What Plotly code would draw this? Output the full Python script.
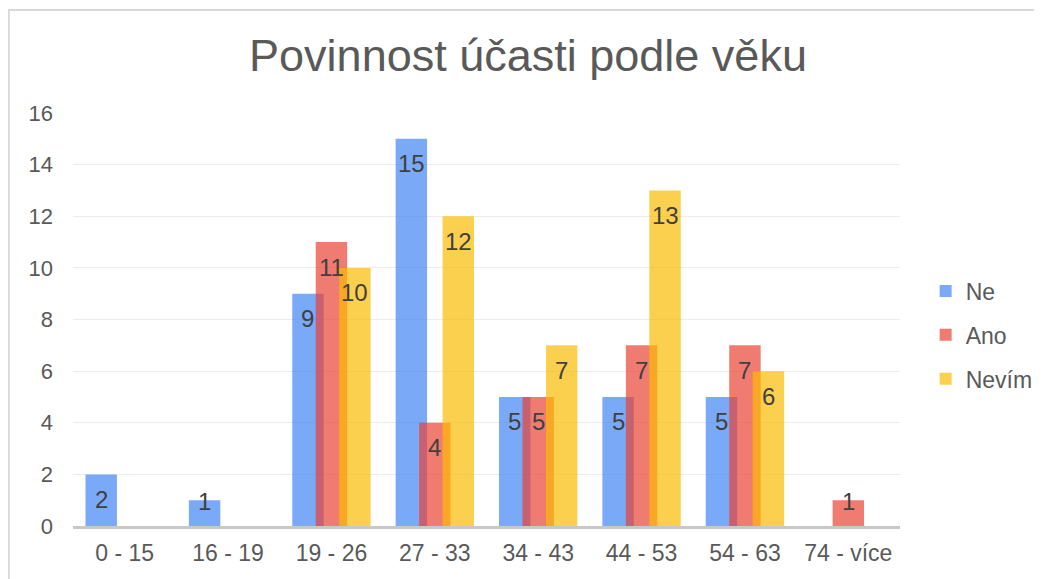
import plotly.graph_objects as go

categories = ["0 - 15", "16 - 19", "19 - 26", "27 - 33", "34 - 43", "44 - 53", "54 - 63", "74 - více"]
series_names = ["Ne", "Ano", "Nevím"]
ne = [2, 1, 9, 15, 5, 5, 5, 0]
ano = [0, 0, 11, 4, 5, 7, 7, 1]
nevim = [0, 0, 10, 12, 7, 13, 6, 0]
y_ticks = [0, 2, 4, 6, 8, 10, 12, 14, 16]

series_values = [ne, ano, nevim]
colors = ["rgba(66,133,244,0.7)", "rgba(234,67,53,0.7)", "rgba(251,188,4,0.7)"]

# page body has an 8px default margin, so the figure is drawn at (8, 8)
OFF = 8
W, H = 1042 - OFF, 579 - OFF
ML, MT = 73 - OFF, 113 - OFF
MR = W - (900 - OFF)
MB = H - (526 - OFF)
plot_w = W - ML - MR
plot_h = H - MT - MB
y_max = 16
px_per_unit = plot_h / y_max

BAR_W = 0.304
STEP = 0.227
FONT = "Liberation Sans, Arial, sans-serif"

fig = go.Figure()
for i, (name, vals) in enumerate(zip(series_names, series_values)):
    fig.add_trace(go.Bar(
        x=categories, y=vals, name=name,
        width=BAR_W, offset=-BAR_W / 2 + (i - 1) * STEP,
        marker=dict(color=colors[i], line=dict(width=0)),
        legendgroup=name,
        hoverinfo="x+y+name",
    ))

# data labels (inside end, drawn above all bars like the original)
annotations = []
for i, vals in enumerate(series_values):
    for j, v in enumerate(vals):
        if v <= 0:
            continue
        if v * px_per_unit >= 50:
            y, ys = v, -25
        else:
            y, ys = 0, 25
        annotations.append(dict(
            x=j + (i - 1) * STEP, y=y, xref="x", yref="y",
            text=str(v), showarrow=False, yshift=ys,
            xanchor="center", yanchor="middle",
            font=dict(size=24, color="#404040", family=FONT),
        ))

fig.update_layout(
    width=W, height=H,
    margin=dict(l=ML, r=MR, t=MT, b=MB, autoexpand=False),
    paper_bgcolor="white", plot_bgcolor="white",
    barmode="overlay",
    font=dict(family=FONT, color="#595959"),
    title=dict(
        text="Povinnost účasti podle věku",
        x=(528 - OFF) / W, xref="container", xanchor="center",
        y=1 - (55 - OFF) / H, yref="container", yanchor="middle",
        font=dict(size=45, color="#595959", family=FONT),
    ),
    xaxis=dict(
        type="category", categoryorder="array", categoryarray=categories,
        range=[-0.5, len(categories) - 0.5],
        showline=True, linecolor="#c8c8c8", linewidth=2.5,
        showgrid=False, ticks="", tickfont=dict(size=23, color="#595959"),
        ticklabelstandoff=5,
    ),
    yaxis=dict(
        range=[0, y_max], tickvals=y_ticks,
        showgrid=True, gridcolor="#ececec", gridwidth=1.2,
        zeroline=False, showline=False, ticks="",
        tickfont=dict(size=22, color="#595959"),
        ticklabelstandoff=19,
    ),
    legend=dict(
        x=1.031, xanchor="left", y=(526 - 335) / plot_h, yanchor="middle",
        font=dict(size=23, color="#595959", family=FONT),
        tracegroupgap=11, itemwidth=30,
        bgcolor="rgba(0,0,0,0)",
    ),
    annotations=annotations,
    shapes=[dict(
        type="rect", xref="paper", yref="paper",
        x0=(0.9 - ML) / plot_w, x1=1.5,
        y0=-0.5, y1=(526 - 10) / plot_h,
        line=dict(color="#d9d9d9", width=1.8), fillcolor="rgba(0,0,0,0)",
        layer="below",
    )],
    showlegend=True,
)

fig.write_html("out.html", config={"displayModeBar": False})
